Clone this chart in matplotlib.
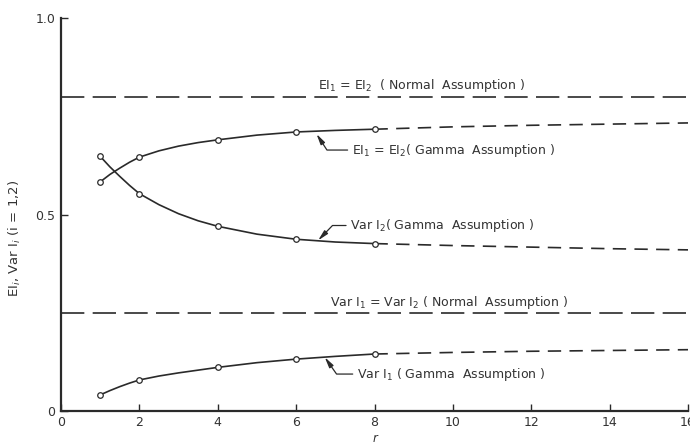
import matplotlib
matplotlib.use("Agg")
import matplotlib.pyplot as plt

# ---- data ----
r_marks = [1, 2, 4, 6, 8]
ei_gamma_marks = [0.583, 0.646, 0.690, 0.710, 0.717]
var2_gamma_marks = [0.648, 0.553, 0.470, 0.437, 0.426]
var1_gamma_marks = [0.041, 0.079, 0.111, 0.132, 0.145]

r_curve = [1, 1.25, 1.5, 1.75, 2, 2.5, 3, 3.5, 4, 5, 6, 7, 8]
ei_gamma_curve = [0.583, 0.602, 0.618, 0.633, 0.646, 0.662, 0.674, 0.683, 0.690,
                  0.702, 0.710, 0.714, 0.717]
var2_gamma_curve = [0.648, 0.621, 0.597, 0.574, 0.553, 0.525, 0.502, 0.484, 0.470,
                    0.450, 0.437, 0.430, 0.426]
var1_gamma_curve = [0.041, 0.052, 0.062, 0.071, 0.079, 0.089, 0.097, 0.104, 0.111,
                    0.123, 0.132, 0.139, 0.145]

r_ext = [8, 10, 12, 14, 16]
ei_gamma_ext = [0.717, 0.723, 0.727, 0.730, 0.733]
var2_gamma_ext = [0.426, 0.421, 0.417, 0.413, 0.410]
var1_gamma_ext = [0.145, 0.149, 0.152, 0.154, 0.156]

ei_normal = 0.80
var_normal = 0.25

x_ticks = [0, 2, 4, 6, 8, 10, 12, 14, 16]
x_ticklabels = ["0", "2", "4", "6", "8", "10", "12", "14", "16"]
y_ticks = [0, 0.5, 1.0]
y_ticklabels = ["0", "0.5", "1.0"]

ink = "#2a2a2a"
txt = "#333333"

fig = plt.figure(figsize=(6.9, 4.45), dpi=100)
ax = fig.add_axes([61 / 690, 1 - 411 / 445, (688 - 61) / 690, (411 - 18) / 445])
ax.set_xlim(0, 16)
ax.set_ylim(0, 1.0)

for s in ["top", "right"]:
    ax.spines[s].set_visible(False)
for s in ["left", "bottom"]:
    ax.spines[s].set_color(ink)
    ax.spines[s].set_linewidth(1.6)

ax.set_xticks(x_ticks)
ax.set_xticklabels(x_ticklabels)
ax.set_yticks(y_ticks)
ax.set_yticklabels(y_ticklabels)
ax.tick_params(direction="in", length=5, width=1.0, color=ink, labelcolor=txt,
               labelsize=9)
ax.tick_params(axis="y", pad=4)

# normal assumption lines
ax.axhline(ei_normal, color=ink, lw=1.2, dashes=(14, 5))
ax.axhline(var_normal, color=ink, lw=1.2, dashes=(14, 5))

# gamma curves
for curve, ext, marks in [(ei_gamma_curve, ei_gamma_ext, ei_gamma_marks),
                          (var2_gamma_curve, var2_gamma_ext, var2_gamma_marks),
                          (var1_gamma_curve, var1_gamma_ext, var1_gamma_marks)]:
    ax.plot(r_curve, curve, color=ink, lw=1.2)
    ax.plot(r_ext, ext, color=ink, lw=1.2, dashes=(8, 5))
    ax.plot(r_marks, marks, ls="none", marker="o", ms=4, mfc="white",
            mec=ink, mew=0.9)

fs = 9
ax.text(6.56, 0.828, r"EI$_1$ = EI$_2$  ( Normal  Assumption )",
        ha="left", va="center", fontsize=fs, color=txt)
ax.text(6.86, 0.275, r"Var I$_1$ = Var I$_2$ ( Normal  Assumption )",
        ha="left", va="center", fontsize=fs, color=txt)

def arrow(angle_b):
    return dict(arrowstyle="-|>,head_length=0.7,head_width=0.16", color=ink,
                lw=0.9, connectionstyle=f"angle,angleA=0,angleB={angle_b},rad=0",
                shrinkA=1, shrinkB=0)

# EI gamma annotation
ax.annotate(r"EI$_1$ = EI$_2$( Gamma  Assumption )",
            xy=(6.52, 0.705), xytext=(7.42, 0.664),
            ha="left", va="center", fontsize=fs, color=txt,
            arrowprops=arrow(-57))
# Var I2 annotation
ax.annotate(r"Var I$_2$( Gamma  Assumption )",
            xy=(6.56, 0.434), xytext=(7.38, 0.472),
            ha="left", va="center", fontsize=fs, color=txt,
            arrowprops=arrow(46))
# Var I1 annotation
ax.annotate(r"Var I$_1$ ( Gamma  Assumption )",
            xy=(6.73, 0.137), xytext=(7.55, 0.094),
            ha="left", va="center", fontsize=fs, color=txt,
            arrowprops=arrow(-55))

fig.text(15 / 690, 1 - 238 / 445, r"EI$_i$, Var I$_i$ (i = 1,2)", rotation=90,
         ha="center", va="center", fontsize=9.5, color=txt)
fig.text(375 / 690, 1 - 438 / 445, "r", ha="center", va="center", fontsize=8.5,
         style="italic", color=txt)

fig.savefig("out.png", dpi=100)
